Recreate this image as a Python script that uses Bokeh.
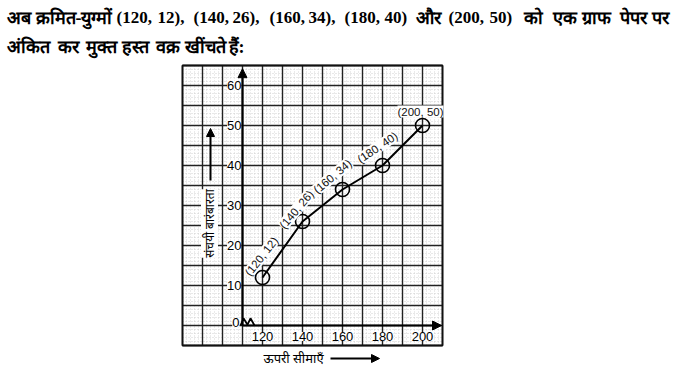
import numpy as np
from bokeh.plotting import figure
from bokeh.models import Range1d, Arrow, NormalHead, ColumnDataSource
from bokeh.core.properties import value
from bokeh.embed import file_html
from bokeh.resources import INLINE

# ---------------- data ----------------
upper_limits = [120, 140, 160, 180, 200]
cum_freq = [12, 26, 34, 40, 50]
point_labels = ["(120, 12)", "(140, 26)", "(160, 34)", "(180, 40)", "(200, 50)"]
x_ticks = [120, 140, 160, 180, 200]
y_ticks = [10, 20, 30, 40, 50, 60]
title_line1 = "अब क्रमित-युग्मों (120, 12), (140, 26), (160, 34), (180, 40) और (200, 50) को एक ग्राफ पेपर पर"
title_line2 = "अंकित कर मुक्त हस्त वक्र खींचते हैं:"
x_label = "ऊपरी सीमाएँ"
y_label = "संचयी बारंबारता"

# ---------------- layout ----------------
W, H = 675, 375
GX0, GX1 = 80, 210
GY0, GY1 = -5, 65
X_ORIGIN = 110
PX_X = 2.0
PX_Y = 4.0
FRAME_LEFT, FRAME_BOTTOM = 182, 345
xs0 = GX0 - FRAME_LEFT / PX_X
ys0 = GY0 - (H - FRAME_BOTTOM) / PX_Y

def dx(px):
    return xs0 + px / PX_X

def dy(py):
    return ys0 + (H - py) / PX_Y

p = figure(width=W, height=H, output_backend="svg", toolbar_location=None,
           x_range=Range1d(xs0, xs0 + W / PX_X), y_range=Range1d(ys0, ys0 + H / PX_Y),
           min_border=0, min_border_left=0, min_border_right=0,
           min_border_top=0, min_border_bottom=0)
p.axis.visible = False
p.grid.visible = False
p.outline_line_color = None
p.background_fill_color = "white"

# minor grid (dotted)
mx = np.arange(GX0, GX1 + 0.01, 2.0)
my = np.arange(GY0, GY1 + 0.01, 1.0)
p.segment(x0=mx, y0=GY0, x1=mx, y1=GY1, line_color="#cccccc", line_width=0.8, line_dash="1 2")
p.segment(x0=GX0, y0=my, x1=GX1, y1=my, line_color="#c4c4c4", line_width=0.8, line_dash="1 2")
# major grid
Mx = np.arange(GX0, GX1 + 0.01, 10.0)
My = np.arange(GY0, GY1 + 0.01, 5.0)
p.segment(x0=Mx, y0=GY0, x1=Mx, y1=GY1, line_color="#222222", line_width=1.4)
p.segment(x0=GX0, y0=My, x1=GX1, y1=My, line_color="#222222", line_width=1.4)
# outer frame
p.quad(left=GX0, right=GX1, bottom=GY0, top=GY1, fill_color=None, line_color="#111111", line_width=1.8)

# axes with arrows
p.add_layout(Arrow(x_start=X_ORIGIN, y_start=0, x_end=GX1 - 0.5, y_end=0, line_width=2.2,
                   end=NormalHead(size=9, fill_color="black", line_color="black")))
p.add_layout(Arrow(x_start=X_ORIGIN, y_start=0, x_end=X_ORIGIN, y_end=GY1 - 0.8, line_width=2.2,
                   end=NormalHead(size=9, fill_color="black", line_color="black")))

# axis break zigzag near origin
zz_x = [X_ORIGIN - 1, X_ORIGIN + 0.5, X_ORIGIN + 2.5, X_ORIGIN + 4, X_ORIGIN + 6]
zz_y = [0, 1.8, 0.2, 1.8, 0]
p.line(zz_x, zz_y, line_color="black", line_width=1.8)

tick_font = value("Liberation Sans")
p.text(x=[X_ORIGIN] * len(y_ticks), y=y_ticks, text=[str(t) for t in y_ticks],
       text_font=tick_font, text_font_size="13px", text_align="right", text_baseline="middle",
       x_offset=-1, background_fill_color="white", padding=0)
p.text(x=[X_ORIGIN], y=[0], text=["0"], text_font=tick_font, text_font_size="13px",
       text_align="right", text_baseline="middle", x_offset=-3, y_offset=-3,
       background_fill_color="white")
p.text(x=x_ticks, y=[0] * len(x_ticks), text=[str(t) for t in x_ticks],
       text_font=tick_font, text_font_size="13px", text_align="center", text_baseline="middle",
       y_offset=11, background_fill_color="white")

# curve
src = ColumnDataSource(dict(x=upper_limits, y=cum_freq, lab=point_labels,
                            ang=np.radians([52, 50, 40, 34, 0]),
                            xo=[-1, -6, -10, -5, -2], yo=[-21, -12, -13, -18, -14]))
p.line("x", "y", source=src, line_color="black", line_width=2)
p.scatter("x", "y", source=src, size=14, marker="circle", fill_color=None,
          line_color="black", line_width=1.6)
p.text("x", "y", text="lab", source=src, angle="ang", x_offset="xo", y_offset="yo",
       text_font=tick_font, text_font_size="11.5px", text_align="center", text_baseline="middle",
       text_color="#111111", background_fill_color="white")

# axis titles
p.text(x=[dx(209)], y=[dy(223)], text=[y_label], angle=np.pi / 2, text_font=value("Noto Sans"),
       text_font_size="12px", text_align="center", text_baseline="middle",
       background_fill_color="white")
p.add_layout(Arrow(x_start=dx(210), y_start=dy(180), x_end=dx(210), y_end=dy(128), line_width=2,
                   end=NormalHead(size=8, fill_color="black", line_color="black")))
p.text(x=[dx(293)], y=[dy(357)], text=[x_label], text_font=value("Noto Sans"),
       text_font_size="13px", text_align="center", text_baseline="middle")
p.add_layout(Arrow(x_start=dx(330), y_start=dy(358), x_end=dx(379), y_end=dy(358), line_width=2,
                   end=NormalHead(size=8, fill_color="black", line_color="black")))

# heading text (justified: each word placed at its own position)
def is_deva(w):
    return any(0x0900 <= ord(c) <= 0x097F for c in w)

words1 = title_line1.split(" ")
words2 = title_line2.split(" ")
pos1 = [6, 35, 116, 157, 193, 232, 269, 308, 344, 384, 415, 448, 489, 523, 552, 581, 619, 651]
pos2 = [6, 57, 85, 121, 155, 184, 228]
for words, pos, ypx in ((words1, pos1, 17), (words2, pos2, 46)):
    sizes = ["18px" if is_deva(w) else "17px" for w in words]
    hsrc = ColumnDataSource(dict(x=[dx(v) for v in pos], y=[dy(ypx)] * len(words), t=words, s=sizes))
    p.text("x", "y", text="t", source=hsrc, text_font_size="s",
           text_font=value("Liberation Serif"), text_font_style="bold",
           text_align="left", text_baseline="middle", text_color="black")

open("out.html", "w").write(file_html(p, INLINE))
